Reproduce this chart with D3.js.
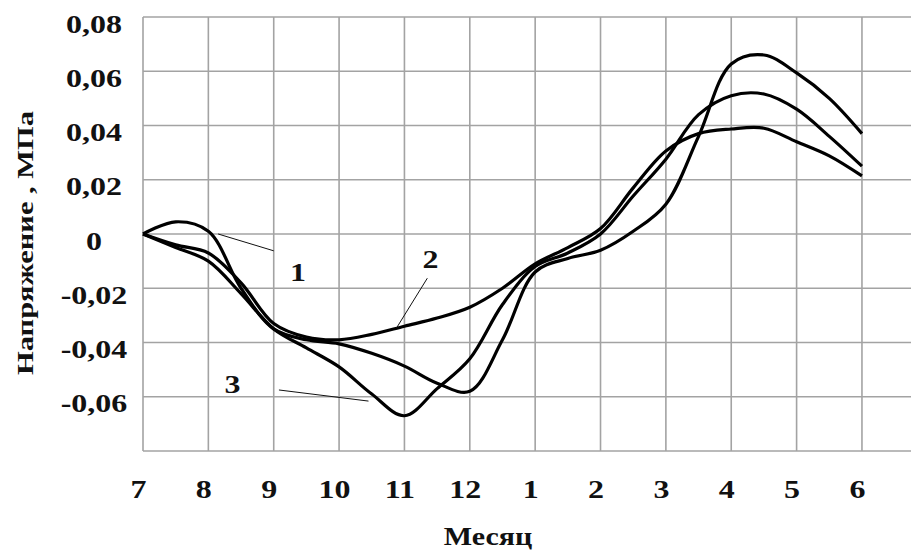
<!DOCTYPE html>
<html>
<head>
<meta charset="utf-8">
<script src="https://cdn.jsdelivr.net/npm/d3@7"></script>
<style>
  body { margin: 0; background: #fff; }
  svg { display: block; }
  text { font-family: "Liberation Serif", "Times New Roman", serif; font-weight: bold; fill: #111; }
</style>
</head>
<body>
<div id="chart"></div>
<script>
// months along the x axis (July .. June)
const months = ["7", "8", "9", "10", "11", "12", "1", "2", "3", "4", "5", "6"];
const yTicks = [-0.06, -0.04, -0.02, 0, 0.02, 0.04, 0.06, 0.08];

// positions of the read values, in month steps from July
const t = [0, 0.5, 1, 1.5, 2, 2.5, 3, 3.5, 4, 4.5, 5, 5.5, 6, 6.5, 7, 7.5, 8, 8.5, 9, 9.5, 10, 10.5, 11];

// stress, MPa
const curve1 = [0, 0.0045, 0.001, -0.020, -0.035, -0.039, -0.0405, -0.044, -0.0487, -0.055, -0.058, -0.039,
  -0.014, -0.009, -0.006, 0.001, 0.011, 0.036, 0.0627, 0.066, 0.0594, 0.050, 0.037];
const curve2 = [0, -0.004, -0.007, -0.018, -0.033, -0.038, -0.039, -0.037, -0.034, -0.031, -0.027, -0.020,
  -0.011, -0.005, 0.002, 0.017, 0.0306, 0.037, 0.0387, 0.039, 0.034, 0.0288, 0.0214];
const curve3 = [0, -0.005, -0.010, -0.022, -0.035, -0.042, -0.049, -0.059, -0.067, -0.057, -0.046, -0.026,
  -0.012, -0.007, 0.0, 0.014, 0.0276, 0.044, 0.051, 0.0516, 0.046, 0.036, 0.025];

const width = 911, height = 553;
const margin = { top: 17, left: 143 };
const step = 65.36;

const svg = d3.select("#chart").append("svg")
  .attr("width", width)
  .attr("height", height);

const x = d3.scaleLinear().domain([0, 12]).range([margin.left, margin.left + 12 * step]);
const y = d3.scaleLinear().domain([-0.08, 0.08]).range([451, margin.top]);

// grid
const grid = svg.append("g").attr("stroke", "#a3a3a3").attr("stroke-width", 1.6);
grid.selectAll(".vline").data(d3.range(0, 13)).enter()
  .append("line")
  .attr("x1", d => x(d)).attr("x2", d => x(d))
  .attr("y1", y(0.08)).attr("y2", y(-0.08));
grid.selectAll(".hline").data(d3.range(-8, 9, 2).map(d => d / 100)).enter()
  .append("line")
  .attr("x1", x(0)).attr("x2", x(12))
  .attr("y1", d => y(d)).attr("y2", d => y(d));

// axes (labels only)
const ru = d3.formatLocale({ decimal: ",", thousands: " ", grouping: [3], currency: ["", ""], minus: "-" });
const fmt = v => v === 0 ? "0" : ru.format(".2f")(v);

const xAxis = svg.append("g")
  .attr("transform", `translate(0,${y(-0.08)})`)
  .call(d3.axisBottom(x).tickValues(d3.range(0, 12)).tickFormat(i => months[i]).tickSize(0));
xAxis.select(".domain").remove();
xAxis.selectAll("text")
  .attr("font-family", null)
  .attr("font-size", 25)
  .attr("y", 47)
  .attr("dy", 0)
  .attr("transform", "translate(-5,0) scale(1.28,1)");

const yAxis = svg.append("g")
  .attr("transform", "translate(94,0)")
  .call(d3.axisLeft(y).tickValues(yTicks).tickFormat(fmt).tickSize(0));
yAxis.select(".domain").remove();
yAxis.selectAll("text")
  .attr("font-family", null)
  .attr("font-size", 25)
  .attr("text-anchor", "middle")
  .attr("x", 0)
  .attr("dy", "0.6em")
  .attr("transform", "scale(1.28,1)");

// curves
const line = d3.line()
  .x((d, i) => x(t[i]))
  .y(d => y(d))
  .curve(d3.curveCatmullRom.alpha(0.5));

svg.append("g").selectAll("path")
  .data([curve2, curve3, curve1]).enter()
  .append("path")
  .attr("d", line)
  .attr("fill", "none")
  .attr("stroke", "#000")
  .attr("stroke-width", 3.2)
  .attr("stroke-linejoin", "round");

// leader lines and curve numbers
const leaders = [
  { n: "1", from: [1.15, 0.0], to: [2.0, -0.0062], lx: 2.37, ly: -0.0172 },
  { n: "2", from: [4.35, -0.0163], to: [3.88, -0.0346], lx: 4.4, ly: -0.0125 },
  { n: "3", from: [2.08, -0.0575], to: [3.45, -0.0616], lx: 1.37, ly: -0.0585 }
];
const ann = svg.append("g");
ann.selectAll("line").data(leaders).enter()
  .append("line")
  .attr("x1", d => x(d.from[0])).attr("y1", d => y(d.from[1]))
  .attr("x2", d => x(d.to[0])).attr("y2", d => y(d.to[1]))
  .attr("stroke", "#111").attr("stroke-width", 1);
ann.selectAll("text").data(leaders).enter()
  .append("text")
  .attr("transform", d => `translate(${x(d.lx)},${y(d.ly)}) scale(1.28,1)`)
  .attr("text-anchor", "middle")
  .attr("font-size", 25)
  .text(d => d.n);

// axis titles
svg.append("text")
  .attr("transform", "translate(33,243) rotate(-90) scale(1.27,1)")
  .attr("text-anchor", "middle")
  .attr("font-size", 24)
  .text("Напряжение , МПа");

svg.append("text")
  .attr("transform", "translate(488,545) scale(1.2,1)")
  .attr("text-anchor", "middle")
  .attr("font-size", 25)
  .text("Месяц");
</script>
</body>
</html>
